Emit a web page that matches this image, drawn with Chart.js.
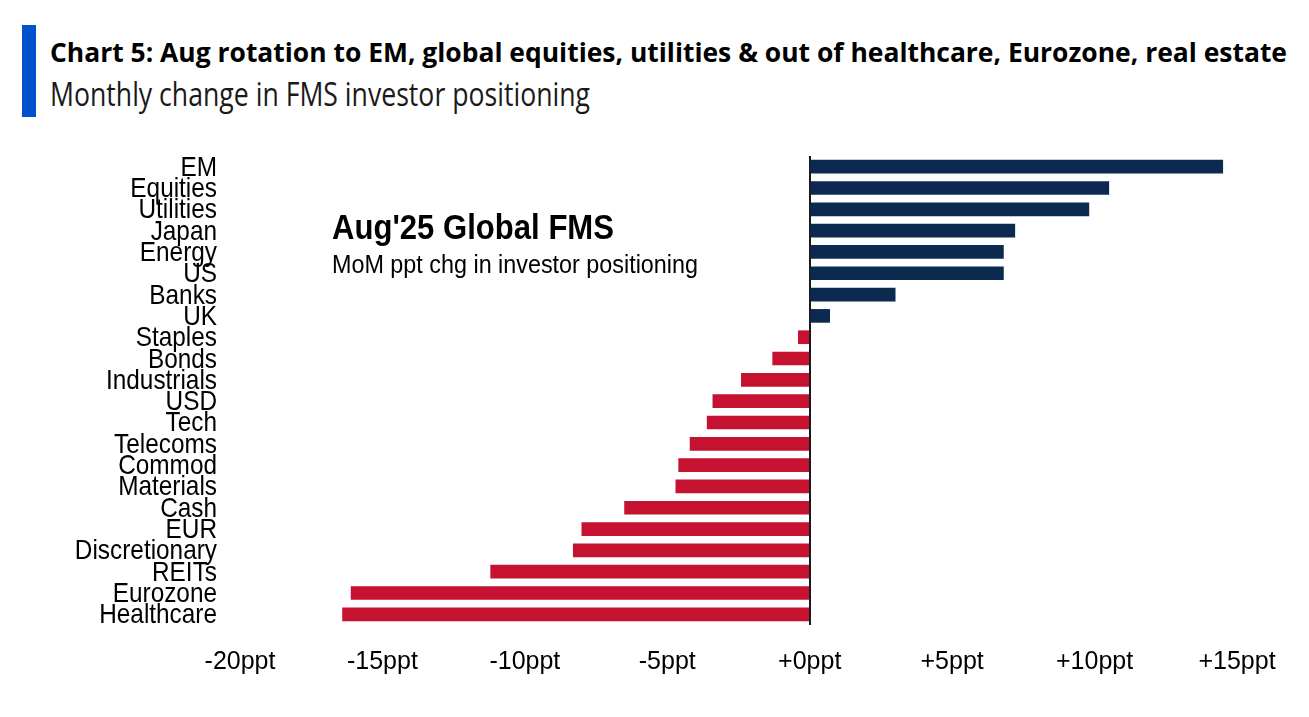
<!DOCTYPE html>
<html>
<head>
<meta charset="utf-8">
<script src="https://cdn.jsdelivr.net/npm/chart.js@4.4.1/dist/chart.umd.min.js"></script>
<style>
  html, body { margin: 0; padding: 0; background: #fff; }
  body { width: 1309px; height: 717px; position: relative; overflow: hidden; }
  #chart { position: absolute; left: 0; top: 0; }
  .fit { position: absolute; white-space: nowrap; transform-origin: 0 0; color: #000; line-height: 1; }
  #accent { position: absolute; left: 22px; top: 25px; width: 14px; height: 92px; background: #0052cc; }
  #title { left: 50px; top: 33px; font: 700 27px 'Open Sans', sans-serif; }
  #subtitle { left: 50px; top: 72px; font: 400 32px 'Open Sans', sans-serif; color: #1a1a1a; }
  #note1 { left: 332px; top: 207px; font: 700 35px 'Liberation Sans', Arial, sans-serif; }
  #note2 { left: 332px; top: 249px; font: 400 26px 'Liberation Sans', Arial, sans-serif; }
</style>
</head>
<body>
<div id="accent"></div>
<div id="title" class="fit" data-w="1237">Chart 5: Aug rotation to EM, global equities, utilities &amp; out of healthcare, Eurozone, real estate</div>
<div id="subtitle" class="fit" data-w="540">Monthly change in FMS investor positioning</div>
<canvas id="chart" width="1309" height="717"></canvas>
<div id="note1" class="fit" data-w="282">Aug'25 Global FMS</div>
<div id="note2" class="fit" data-w="366">MoM ppt chg in investor positioning</div>
<script>
// categories top to bottom, MoM ppt change
const categories = ['EM', 'Equities', 'Utilities', 'Japan', 'Energy', 'US', 'Banks', 'UK',
  'Staples', 'Bonds', 'Industrials', 'USD', 'Tech', 'Telecoms', 'Commod', 'Materials',
  'Cash', 'EUR', 'Discretionary', 'REITs', 'Eurozone', 'Healthcare'];
const changes = [14.5, 10.5, 9.8, 7.2, 6.8, 6.8, 3.0, 0.7,
  -0.4, -1.3, -2.4, -3.4, -3.6, -4.2, -4.6, -4.7,
  -6.5, -8.0, -8.3, -11.2, -16.1, -16.4];
const xTicks = [-20, -15, -10, -5, 0, 5, 10, 15];

const NAVY = '#0c2a50';
const RED = '#c41230';

// squeeze free text to the widths seen in the reference
document.querySelectorAll('.fit').forEach(el => {
  const w = el.getBoundingClientRect().width;
  el.style.transform = 'scaleX(' + (el.dataset.w / w) + ')';
});

// category labels in a narrow face: no narrow font installed, so squeeze Liberation Sans
const narrowLabels = {
  id: 'narrowLabels',
  afterDraw(chart) {
    const s = chart.scales.y;
    const ctx = chart.ctx;
    ctx.save();
    ctx.font = "28px 'Liberation Sans', Arial, sans-serif";
    ctx.fillStyle = '#000';
    ctx.textAlign = 'right';
    ctx.textBaseline = 'alphabetic';
    s.ticks.forEach((t, i) => {
      ctx.save();
      ctx.translate(s.right - 23, s.getPixelForTick(i) + 9);
      ctx.scale(0.87, 1);
      ctx.fillText(s.getLabelForValue(t.value), 0, 0);
      ctx.restore();
    });
    ctx.restore();
  }
};

new Chart(document.getElementById('chart'), {
  type: 'bar',
  data: {
    labels: categories,
    datasets: [{
      data: changes,
      backgroundColor: changes.map(v => v >= 0 ? NAVY : RED),
      borderWidth: 0,
      barThickness: 13
    }]
  },
  options: {
    indexAxis: 'y',
    responsive: false,
    animation: false,
    layout: { padding: { top: 156, left: 40, right: 72, bottom: 0 } },
    plugins: { legend: { display: false }, tooltip: { enabled: false } },
    scales: {
      x: {
        min: -20,
        max: 15,
        afterBuildTicks: s => { s.ticks = xTicks.map(v => ({ value: v })); },
        afterFit: s => { s.height = 92; },
        ticks: {
          callback: v => (v >= 0 ? '+' : '') + v + 'ppt',
          font: { family: "'Liberation Sans', Arial, sans-serif", size: 25 },
          color: '#000',
          padding: 22,
          maxRotation: 0
        },
        grid: {
          drawTicks: false,
          color: c => c.tick && c.tick.value === 0 ? '#1a1a1a' : 'rgba(0,0,0,0)',
          lineWidth: 2
        },
        border: { display: false }
      },
      y: {
        afterFit: s => { s.width = 200; },
        ticks: { display: false, autoSkip: false },
        grid: { display: false },
        border: { display: false }
      }
    }
  },
  plugins: [narrowLabels]
});
</script>
</body>
</html>
